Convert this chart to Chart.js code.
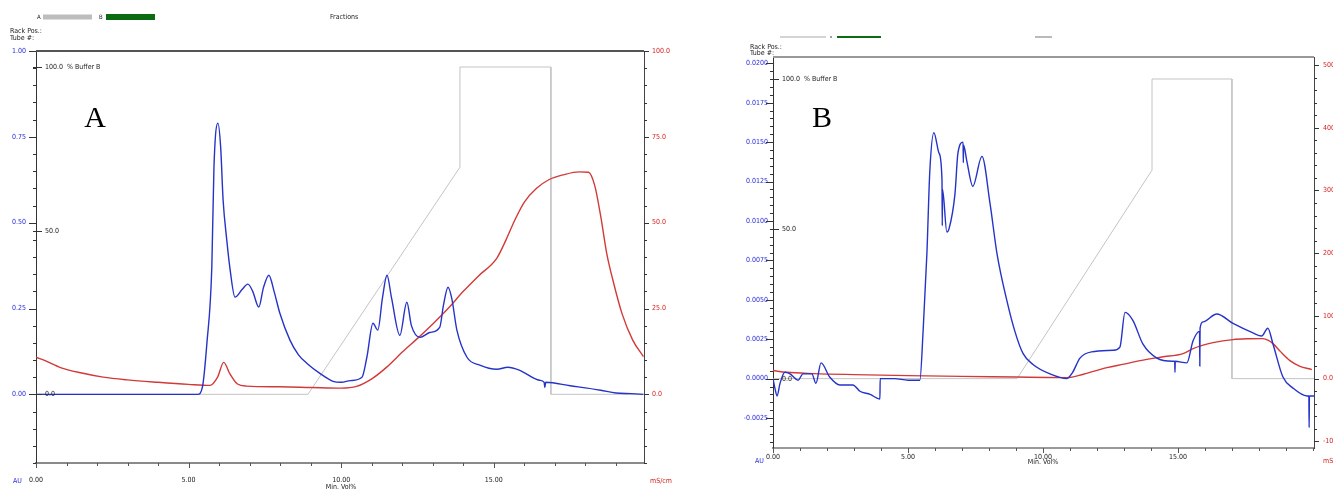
<!DOCTYPE html>
<html><head><meta charset="utf-8">
<script src="https://cdn.jsdelivr.net/npm/chart.js@4.4.1/dist/chart.umd.min.js"></script>
<style>
html,body{margin:0;padding:0;background:#fff;width:1333px;height:490px;overflow:hidden}
canvas{position:absolute;top:0}
#cA{left:0}
#cB{left:735px}
</style></head><body>
<canvas id="cA" width="690" height="490"></canvas>
<canvas id="cB" width="598" height="490"></canvas>
<script>
const FONT = "'Liberation Sans Narrow','DejaVu Sans Condensed','Liberation Sans',sans-serif";

// ---------- Panel A data ----------
const uvA_time = [0,5.3,5.45,5.6,5.76,5.83,5.96,6.05,6.13,6.25,6.35,6.52,6.75,6.94,7.1,7.3,7.45,7.63,7.8,7.99,8.32,8.6,8.88,9.3,9.73,10.0,10.3,10.68,10.84,11.04,11.2,11.35,11.5,11.65,11.92,12.15,12.3,12.58,12.9,13.23,13.35,13.5,13.62,13.79,14.12,14.54,15.1,15.46,15.85,16.5,16.65,16.67,16.7,17.5,18.5,19.0,19.5,19.9];
const uvA_au   = [0,0,0.02,0.15,0.37,0.66,0.79,0.72,0.566,0.45,0.37,0.283,0.305,0.321,0.30,0.254,0.31,0.347,0.30,0.236,0.158,0.115,0.09,0.061,0.038,0.035,0.04,0.05,0.108,0.207,0.187,0.28,0.347,0.28,0.172,0.268,0.20,0.166,0.18,0.196,0.26,0.312,0.28,0.187,0.108,0.085,0.073,0.079,0.07,0.041,0.035,0.02,0.035,0.025,0.012,0.004,0.002,0];
const condA_time = [0,0.3,0.8,1.5,2.2,3.0,4.0,5.0,5.7,5.95,6.15,6.35,6.6,6.9,8,9,10,10.5,11,11.5,12,12.5,13,13.5,14,14.5,15.1,15.4,15.7,16.0,16.4,16.8,17.3,17.8,18.1,18.3,18.5,18.7,18.9,19.2,19.55,19.9];
const condA_mS   = [10.8,9.8,7.8,6.2,5.0,4.2,3.5,2.9,2.6,5.0,9.3,6.0,3.0,2.4,2.2,2.0,1.8,2.3,4.5,8,12.3,16.3,20.5,25,30,34.5,39.7,45,51,56,60,62.5,64,64.8,64.7,61,52,41,33.3,23.5,15.8,11];
const gradA_time = [0,8.91,13.89,13.89,16.87,16.87,19.92];
const gradA_pctB = [0,0,69.4,100,100,0,0];

// ---------- Panel B data ----------
const uvB_time = [0,0.07,0.15,0.26,0.44,0.63,0.93,1.11,1.44,1.59,1.78,2.1,2.48,2.96,3.22,3.6,3.96,3.97,4.5,5.0,5.44,5.56,5.7,5.81,5.96,6.15,6.26,6.27,6.28,6.44,6.52,6.74,6.85,7.04,7.05,7.06,7.18,7.4,7.74,8.04,8.3,8.67,8.96,9.26,9.63,10.26,10.89,11.1,11.37,11.8,12.6,12.85,13.04,13.33,13.7,14.22,14.8,14.88,14.89,14.9,15.33,15.56,15.8,15.81,15.82,15.93,16.44,17.04,17.78,18.1,18.33,18.52,18.89,19.26,19.78,19.85,19.86,19.87,20.04];
const uvB_au   = [0,-0.0006,-0.0011,-0.0003,0.0004,0.0003,-0.0001,0.0003,0.0003,-0.0003,0.0010,0.0001,-0.0004,-0.0004,-0.0008,-0.0010,-0.0013,0.0000,0.0000,-0.0001,-0.0001,0.0030,0.0079,0.0132,0.0156,0.0143,0.0126,0.0097,0.0120,0.0093,0.0095,0.0117,0.0143,0.0150,0.0137,0.0148,0.0138,0.0122,0.0141,0.0111,0.0079,0.0049,0.0030,0.0016,0.0009,0.0003,0.0000,0.0004,0.0013,0.0017,0.0018,0.0020,0.0042,0.0037,0.0022,0.0013,0.0011,0.0011,0.0004,0.0011,0.0010,0.0024,0.0030,0.0008,0.0032,0.0036,0.0041,0.0035,0.0029,0.0027,0.0032,0.0022,0.0001,-0.0006,-0.0011,-0.0011,-0.0031,-0.0011,-0.0011];
const condB_time = [0,0.5,1.5,3,5,7,9,10.2,10.89,11.5,12.37,13.0,13.6,14.4,15.19,15.56,15.9,16.3,17.04,17.6,18.15,18.35,18.52,18.8,19.15,19.5,19.96];
const condB_mS   = [12.8,10,8,6.4,4.8,3.5,2.5,1.8,1.6,7,17.5,23,28.7,34.5,39.9,47.8,53,57.4,62.2,63.5,63.8,61,55.8,43,28.7,20,14.4];
const gradB_time = [0,9.04,14.04,14.04,17.0,17.0,20.04];
const gradB_pctB = [0,0,69.6,100,100,0,0];

// ---------- Tick labels ----------
const xTickLabels = [0,5,10,15];
const auTicksA = [0,0.25,0.5,0.75,1.0];
const mSTicksA = [0,25,50,75,100];
const auTicksB = [-0.0025,0,0.0025,0.005,0.0075,0.01,0.0125,0.015,0.0175,0.02];
const mSTicksB = [-100,0,100,200,300,400,500];
const pctLabels = [{v:100,t:'100.0  % Buffer B'},{v:50,t:'50.0'},{v:0,t:'0.0'}];

const zip = (xs, ys) => xs.map((x,i)=>({x, y: ys[i]}));

const decoPlugin = {
  id: 'deco',
  afterDraw(chart, args, o) {
    const ctx = chart.ctx, ca = chart.chartArea;
    ctx.save();
    ctx.strokeStyle = o.topColor; ctx.lineWidth = o.topWidth;
    ctx.beginPath(); ctx.moveTo(ca.left, ca.top); ctx.lineTo(ca.right, ca.top); ctx.stroke();
    for (const tk of o.ticks) {
      const sc = chart.scales[tk.id];
      ctx.strokeStyle = tk.color; ctx.lineWidth = 1;
      const n = Math.round((tk.to - tk.from) / tk.step);
      for (let i = 0; i <= n; i++) {
        const v = tk.from + i * tk.step;
        const major = tk.majors.some(m => Math.abs(m - v) < tk.step / 100);
        const len = major ? tk.major : tk.minor;
        const p = Math.round(sc.getPixelForValue(v)) + 0.5;
        ctx.beginPath();
        if (tk.side === 'left') { ctx.moveTo(ca.left - len, p); ctx.lineTo(ca.left, p); }
        else if (tk.side === 'right') { ctx.moveTo(ca.right, p); ctx.lineTo(ca.right + len, p); }
        else { ctx.moveTo(p, ca.bottom); ctx.lineTo(p, ca.bottom + len); }
        ctx.stroke();
      }
    }
    const sb = chart.scales.yB;
    ctx.font = '7px ' + FONT; ctx.fillStyle = '#222'; ctx.textBaseline = 'middle'; ctx.textAlign = 'left';
    ctx.strokeStyle = '#333';
    for (const pl of pctLabels) {
      const p = Math.round(sb.getPixelForValue(pl.v)) + 0.5;
      ctx.beginPath(); ctx.moveTo(ca.left - 3, p); ctx.lineTo(ca.left + 6, p); ctx.stroke();
      ctx.fillText(pl.t, ca.left + 9, p);
    }
    for (const r of o.rects) { ctx.fillStyle = r.c; ctx.fillRect(r.x, r.y, r.w, r.h); }
    for (const t of o.texts) {
      ctx.font = (t.size || 7) + 'px ' + (t.serif ? "'Liberation Serif','DejaVu Serif',serif" : FONT);
      ctx.fillStyle = t.c || '#222';
      ctx.textAlign = t.a || 'left';
      ctx.textBaseline = 'middle';
      ctx.fillText(t.t, t.x, t.y);
    }
    ctx.restore();
  }
};

function makeChart(id, d) {
  const lbl = (c) => ({ font: { family: FONT, size: 7 }, color: c });
  new Chart(document.getElementById(id), {
    type: 'line',
    data: {
      datasets: [
        { data: zip(d.uvT, d.uvV), yAxisID: 'y', borderColor: '#2633c8', borderWidth: 1.4, pointRadius: 0, cubicInterpolationMode: 'monotone' },
        { data: zip(d.cT, d.cV), yAxisID: 'yR', borderColor: '#d23a3a', borderWidth: 1.4, pointRadius: 0, cubicInterpolationMode: 'monotone' },
        { data: zip(d.gT, d.gV), yAxisID: 'yB', borderColor: '#c4c4c4', borderWidth: 1, pointRadius: 0, tension: 0 }
      ]
    },
    options: {
      responsive: false, animation: false, devicePixelRatio: 1,
      layout: { padding: { top: d.top, left: 0, right: 0, bottom: 0 } },
      plugins: { legend: { display: false }, tooltip: { enabled: false }, deco: d.deco },
      scales: {
        x: {
          type: 'linear', position: 'bottom', min: 0, max: d.xMax,
          afterFit: s => { s.height = d.xH; },
          afterBuildTicks: s => { s.ticks = xTickLabels.map(v => ({ value: v })); },
          ticks: Object.assign(lbl('#222'), { padding: d.xPad, maxRotation: 0, autoSkip: false, callback: v => v.toFixed(2) }),
          grid: { drawOnChartArea: false, drawTicks: false },
          border: { display: true, color: d.botColor, width: 2 }
        },
        y: {
          position: 'left', min: d.yMin, max: d.yMax,
          afterFit: s => { s.width = d.lW; },
          afterBuildTicks: s => { s.ticks = d.auTicks.map(v => ({ value: v })); },
          ticks: Object.assign(lbl('#2a2ad8'), { padding: d.lPad, autoSkip: false, callback: v => v.toFixed(d.lDec) }),
          grid: { drawOnChartArea: false, drawTicks: false },
          border: { display: true, color: '#333', width: 1 }
        },
        yR: {
          position: 'right', min: d.rMin, max: d.rMax,
          afterFit: s => { s.width = d.rW; },
          afterBuildTicks: s => { s.ticks = d.mSTicks.map(v => ({ value: v })); },
          ticks: Object.assign(lbl('#d42020'), { padding: d.rPad, autoSkip: false, callback: v => v.toFixed(1) }),
          grid: { drawOnChartArea: false, drawTicks: false },
          border: { display: true, color: '#444', width: 1 }
        },
        yB: { display: false, min: d.bMin, max: d.bMax }
      }
    },
    plugins: [decoPlugin]
  });
}

// Panel A
makeChart('cA', {
  uvT: uvA_time, uvV: uvA_au, cT: condA_time, cV: condA_mS, gT: gradA_time, gV: gradA_pctB,
  top: 51, xMax: 19.92, xH: 27, xPad: 13, lW: 36, lPad: 10, rW: 46, rPad: 8,
  yMin: -0.2, yMax: 1.0, rMin: -20, rMax: 100, bMin: -20.98, bMax: 104.89,
  auTicks: auTicksA, mSTicks: mSTicksA, lDec: 2, botColor: '#8a8a8a',
  deco: {
    topColor: '#555', topWidth: 2,
    ticks: [
      { id: 'y', side: 'left', from: -0.2, to: 1.0, step: 0.05, majors: auTicksA, major: 7, minor: 3, color: '#333' },
      { id: 'yR', side: 'right', from: -20, to: 100, step: 5, majors: mSTicksA, major: 5, minor: 3, color: '#333' },
      { id: 'x', side: 'bottom', from: 0, to: 19, step: 1, majors: xTickLabels, major: 5, minor: 3, color: '#555' }
    ],
    rects: [ { x: 43, y: 14.5, w: 49, h: 5, c: '#bdbdbd' }, { x: 106, y: 14, w: 49, h: 6, c: '#0b6b12' } ],
    texts: [
      { t: 'A', x: 37, y: 17, size: 6 }, { t: 'B', x: 99, y: 17, size: 6 },
      { t: 'Fractions', x: 330, y: 17 },
      { t: 'Rack Pos.:', x: 10, y: 31 }, { t: 'Tube #:', x: 10, y: 38 },
      { t: 'A', x: 95, y: 119, size: 30, serif: true, a: 'center', c: '#000' },
      { t: 'AU', x: 13, y: 481, c: '#2a2ad8' },
      { t: 'mS/cm', x: 650, y: 481, c: '#d42020' },
      { t: 'Min. Vol%', x: 341, y: 487, a: 'center' }
    ]
  }
});

// Panel B
makeChart('cB', {
  uvT: uvB_time, uvV: uvB_au, cT: condB_time, cV: condB_mS, gT: gradB_time, gV: gradB_pctB,
  top: 57, xMax: 20.04, xH: 42, xPad: 5, lW: 38, lPad: 5, rW: 19, rPad: 9,
  yMin: -0.0044, yMax: 0.0204, rMin: -110.7, rMax: 512.9, bMin: -23.15, bMax: 107.34,
  auTicks: auTicksB, mSTicks: mSTicksB, lDec: 4, botColor: '#999',
  deco: {
    topColor: '#999', topWidth: 2,
    ticks: [
      { id: 'y', side: 'left', from: -0.004, to: 0.020, step: 0.0005, majors: auTicksB, major: 7, minor: 3, color: '#333' },
      { id: 'yR', side: 'right', from: -100, to: 500, step: 20, majors: mSTicksB, major: 5, minor: 3, color: '#333' },
      { id: 'x', side: 'bottom', from: 0, to: 20, step: 1, majors: xTickLabels, major: 5, minor: 3, color: '#555' }
    ],
    rects: [ { x: 45, y: 36.5, w: 46, h: 1, c: '#aaa' }, { x: 95, y: 36.5, w: 2, h: 1, c: '#444' }, { x: 102, y: 36, w: 44, h: 2, c: '#0b6b12' }, { x: 300, y: 36.5, w: 17, h: 1, c: '#777' } ],
    texts: [
      { t: 'Rack Pos.:', x: 15, y: 47 }, { t: 'Tube #:', x: 15, y: 53 },
      { t: 'B', x: 87, y: 119, size: 30, serif: true, a: 'center', c: '#000' },
      { t: 'AU', x: 20, y: 461, c: '#2a2ad8' },
      { t: 'mS/cm', x: 588, y: 461, c: '#d42020' },
      { t: 'Min. Vol%', x: 308, y: 462, a: 'center' }
    ]
  }
});
</script>
</body></html>
